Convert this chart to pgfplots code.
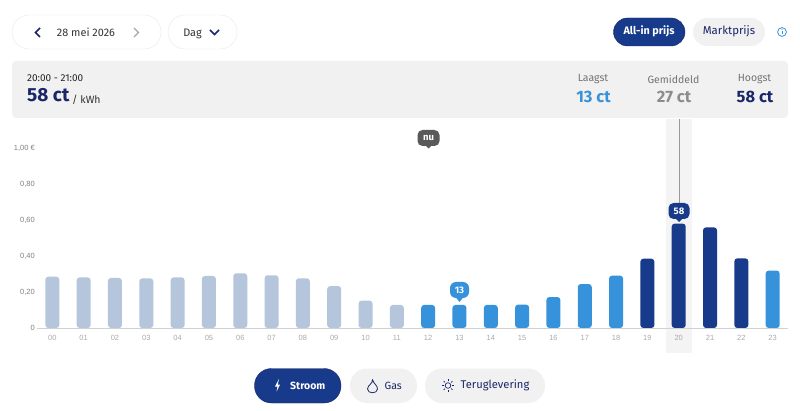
\documentclass[border=0pt]{standalone}
\usepackage{fontspec}
\usepackage{pgfplots}
\pgfplotsset{compat=1.18}
\setmainfont{Fira Sans}
\newfontfamily\tickfont{Liberation Sans}
\definecolor{navy}{HTML}{183A8A}
\definecolor{ink}{HTML}{1A2668}
\definecolor{sky}{HTML}{3592DB}
\definecolor{pale}{HTML}{B5C5DB}
\definecolor{panel}{HTML}{F1F1F1}
\definecolor{rim}{HTML}{E9E9E9}
\newcommand\fs[1]{\fontsize{#1}{#1}\selectfont}
\newcommand\med[1]{\pdfliteral{}#1}
\renewcommand\med[1]{\special{pdf:code q 0.25 w 2 Tr}#1\special{pdf:code Q}}
\renewcommand\med[1]{#1}
\begin{document}
\begin{tikzpicture}[x=1pt,y=-1pt]
\path[use as bounding box,fill=white] (0,0) rectangle (800,411);
% top controls
\draw[rim,fill=white,rounded corners=17pt] (12,15) rectangle (161,49);
\draw[rim,fill=white,rounded corners=17pt] (168,15) rectangle (237,49);
\draw[ink,line width=1.5pt] (40,28) -- (35.5,32.5) -- (40,37);
\draw[gray!70,line width=1.2pt] (134,28) -- (138.5,32.5) -- (134,37);
\node[anchor=center,text=black!80] at (86,32.5) {\fs{10.9}28 mei 2026};
\node[anchor=center,text=black!80] at (192.5,33.5) {\fs{10.9}Dag};
\draw[ink,line width=1.5pt] (210,30) -- (214.5,34.5) -- (219,30);
\fill[navy,draw=ink,rounded corners=14pt] (613.5,18) rectangle (685,46);
\node[text=white] at (649,31.5) {\fs{10.8}\bfseries All-in prijs};
\fill[panel,rounded corners=14pt] (693,18) rectangle (765,46);
\node[text=ink] at (729,31.5) {\fs{11.4}Marktprijs};
\draw[sky,line width=.8pt] (782,32) circle (4.4);
\draw[sky,line width=.9pt] (782,31) -- (782,34.5);
\fill[sky] (782,29.3) circle (.55);
% summary panel
\fill[panel,rounded corners=4pt] (12,61) rectangle (788,118);
\node[anchor=west,inner sep=0pt,text=black!85] at (27,78) {\fs{10}20:00 - 21:00};
\node[anchor=base west,inner sep=0pt,text=ink] at (27,102) {\fs{19}\bfseries\addfontfeature{}58 ct};
\node[anchor=base west,inner sep=0pt,text=black!80] at (72,104) {\fs{10.5}/ kWh};
\node[text=black!55] at (593,79) {\fs{10.5}Laagst};
\node[text=sky] at (593.5,96.5) {\fs{16.5}\bfseries 13 ct};
\node[text=black!55] at (673.5,79) {\fs{10.5}Gemiddeld};
\node[text=black!45] at (674,96.5) {\fs{16.5}\bfseries 27 ct};
\node[text=black!55] at (754.5,79) {\fs{10.5}Hoogst};
\node[text=ink] at (755,96.5) {\fs{16.5}\bfseries 58 ct};
% highlight column
\fill[panel!80] (666,119) rectangle (692,353);
\begin{axis}[
  at={(37pt,-328pt)},anchor=south west,
  scale only axis,width=751pt,height=180pt,
  xmin=-0.49,xmax=23.49,ymin=0,ymax=1,
  y coord trafo/.code={\pgfmathparse{#1+0.03}},
  y coord inv trafo/.code={\pgfmathparse{#1-0.03}},
  axis x line=bottom,axis y line=none,
  axis line style={draw=black!18,-},
  ytick={0,0.2,0.4,0.6,0.8,1},
  xtick={0,...,23},
  xticklabels={00,01,02,03,04,05,06,07,08,09,10,11,12,13,14,15,16,17,18,19,20,21,22,23},
  xticklabel style={font=\tickfont\fs{7.5},text=black!33,yshift=-3.5pt},
  major tick length=0pt,
  xtick style={draw=none},ytick style={draw=none},
  ymajorgrids,grid style={rim,line width=.8pt},
  clip=true,
  ybar,bar width=14pt,
  every axis plot/.append style={bar shift=0pt,rounded corners=3pt,draw=none},
]
\addplot[fill=pale] coordinates {(0,.285)(1,.281)(2,.278)(3,.276)(4,.281)(5,.289)(6,.304)(7,.293)(8,.276)(9,.233)(10,.152)(11,.128)};
\addplot[fill=sky] coordinates {(12,.128)(13,.128)(14,.128)(15,.130)(16,.172)(17,.244)(18,.291)(23,.319)};
\addplot[fill=navy] coordinates {(19,.385)(20,.580)(21,.559)(22,.387)};
\end{axis}
% y labels
\foreach \y/\t in {148/{1,00 €},184/{0,80},220/{0,60},256/{0,40},292/{0,20},328/0}
  \node[anchor=east,inner sep=0pt,text=black!50] at (35,\y) {\tickfont\fs{7.5}\t};
% selection line and badges
\draw[black!40,line width=.9pt] (679,119) -- (679,204);
\fill[navy,rounded corners=5pt] (668.5,203) rectangle (689.5,219);
\fill[navy] (675,218) -- (679,222) -- (683,218) -- cycle;
\node[text=white] at (679,211) {\fs{9.5}\bfseries 58};
\fill[sky,rounded corners=6pt] (450,282) rectangle (469,298);
\fill[sky] (455.5,297) -- (459.5,302) -- (463.5,297) -- cycle;
\node[text=white] at (459.5,290.5) {\fs{9.5}\bfseries 13};
\fill[black!65,rounded corners=5pt] (417.5,130) rectangle (439.5,146);
\fill[black!65] (425,145) -- (428.5,148.5) -- (432,145) -- cycle;
\node[text=white] at (428.5,137.5) {\fs{9.5}\bfseries nu};
% bottom buttons
\fill[navy,draw=ink,rounded corners=17pt] (254.5,368.5) rectangle (341,403);
\fill[white] (279,379) -- (275,386.5) -- (277.5,386.5) -- (276.5,391.5) -- (280,384.5) -- (277.8,384.5) -- cycle;
\node[anchor=west,inner sep=0pt,text=white] at (290,385.5) {\fs{10.5}\bfseries Stroom};
\fill[panel,rounded corners=17pt] (350,368.5) rectangle (417,403);
\draw[ink,line width=.8pt,line join=round] (372.5,379.5) .. controls (373,384) and (367.5,385) .. (367.5,389) .. controls (367.5,394) and (377.5,394) .. (377.5,389) .. controls (377.5,385) and (373.5,384) .. (372.5,379.5) -- cycle;
\node[anchor=west,inner sep=0pt,text=ink] at (384.5,385.5) {\fs{10.5}Gas};
\fill[panel,rounded corners=17pt] (425,368.5) rectangle (545,403);
\draw[ink,line width=.7pt] (448,385.5) circle (2.8);
\foreach \a in {0,45,...,315}
  \draw[ink,line width=.7pt] (448,385.5) ++(\a:4.3) -- ++(\a:2);
\node[anchor=west,inner sep=0pt,text=ink] at (460.5,385.5) {\fs{11.2}Teruglevering};
\end{tikzpicture}
\end{document}
